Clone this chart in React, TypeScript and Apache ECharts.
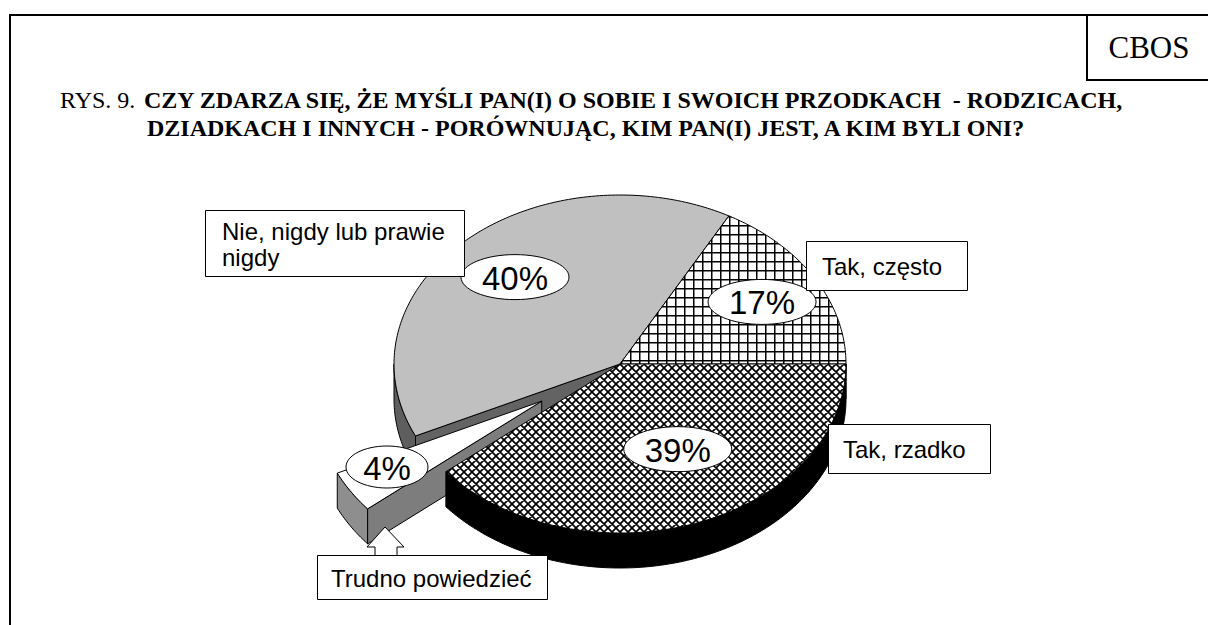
import React, { useEffect, useRef } from "react";
import * as echarts from "echarts";

// ---------- data ----------
const categories = ["Tak, często", "Nie, nigdy lub prawie nigdy", "Trudno powiedzieć", "Tak, rzadko"];
const calloutTexts = ["Tak, często", "Nie, nigdy lub prawie\nnigdy", "Trudno powiedzieć", "Tak, rzadko"];
const values = [17, 40, 4, 39];
const titlePrefix = "RYS. 9.";
const titleLine1 = "CZY ZDARZA SIĘ, ŻE MYŚLI PAN(I) O SOBIE I SWOICH PRZODKACH  - RODZICACH,";
const titleLine2 = "DZIADKACH I INNYCH - PORÓWNUJĄC, KIM PAN(I) JEST, A KIM BYLI ONI?";
const sourceLabel = "CBOS";

// ---------- layout / style ----------
const W = 1208;
const H = 625;
const PIE = { cx: 620, cy: 364, rx: 226, ry: 169, depth: 35 };
const explode = [0, 0, 0.41, 0];
const labelLayout = [
  { r: 0.728, da: -0.3 },
  { r: 0.693, da: -1.1 },
  { r: 0.788, da: -2.75 },
  { r: 0.565, da: 7.1 },
];
const SANS = 'Arial, "Liberation Sans", sans-serif';
const SERIF = '"Times New Roman", "Liberation Serif", serif';

const svgUrl = (s: string) => "data:image/svg+xml;charset=utf-8," + encodeURIComponent(s);
const gridPattern = {
  image: svgUrl(
    '<svg xmlns="http://www.w3.org/2000/svg" width="9" height="9"><rect width="9" height="9" fill="#fff"/><path d="M0 0.75H9M0.75 0V9" stroke="#000" stroke-width="1.5" fill="none"/></svg>'
  ),
  repeat: "repeat",
  imageWidth: 9,
  imageHeight: 9,
};
const diamondPattern = {
  image: svgUrl(
    '<svg xmlns="http://www.w3.org/2000/svg" width="8" height="8"><rect width="8" height="8" fill="#fff"/><path d="M-2 -2L10 10M10 -2L-2 10M6 -2L10 2M-2 6L2 10M-2 2L2 -2M6 10L10 6" stroke="#000" stroke-width="1.7" fill="none"/></svg>'
  ),
  repeat: "repeat",
  imageWidth: 8,
  imageHeight: 8,
};
const topFills: any[] = [gridPattern, "#c0c0c0", "#ffffff", diamondPattern];
const wallFills = ["#808080", "#5e5e5e", "#8e8e8e", "#000000"];
const cutFills = ["#808080", "#636363", "#7d7d7d", "#000000"];

// callout boxes (annotation layout)
const callouts = [
  { x: 806, y: 241, w: 161, h: 49, tx: 822 },
  { x: 205, y: 210, w: 259, h: 66, tx: 222 },
  { x: 317, y: 555, w: 230, h: 44, tx: 331 },
  { x: 828, y: 424, w: 162, h: 49, tx: 843 },
];

const rad = (d: number) => (d * Math.PI) / 180;

function renderItem(params: any, api: any) {
  const i = params.dataIndex;
  const total = values.reduce((a, b) => a + b, 0);
  let start = 0;
  for (let j = 0; j < i; j++) start += (values[j] / total) * 360;
  const v = api.value(0);
  const a0 = start;
  const a1 = start + (v / total) * 360;
  const mid = (a0 + a1) / 2;
  const { rx, ry, depth: D } = PIE;
  const ex = explode[i];
  const cx = PIE.cx + ex * rx * Math.cos(rad(mid));
  const cy = PIE.cy - ex * ry * Math.sin(rad(mid));
  const pt = (t: number, dz = 0) => [cx + rx * Math.cos(rad(t)), cy - ry * Math.sin(rad(t)) + dz];
  const arc = (t0: number, t1: number, dz: number) => {
    const n = Math.max(2, Math.ceil(Math.abs(t1 - t0)));
    const pts: number[][] = [];
    for (let k = 0; k <= n; k++) pts.push(pt(t0 + ((t1 - t0) * k) / n, dz));
    return pts;
  };
  const base = 1000 + Math.round(-Math.sin(rad(mid)) * 100) * 10;
  const children: any[] = [];
  const edge = { stroke: "#000", lineWidth: 1, lineJoin: "round" };

  // outer (front-facing) wall
  const f0 = Math.max(a0, 180);
  const f1 = Math.min(a1, 360);
  if (f1 > f0) {
    const top = arc(f0, f1, 0);
    const bot = arc(f0, f1, D).reverse();
    children.push({
      type: "polygon",
      z2: base,
      shape: { points: top.concat(bot) },
      style: { fill: wallFills[i], ...edge },
    });
  }
  // radial cut faces
  if (Math.cos(rad(a0)) > 1e-6) {
    children.push({
      type: "polygon",
      z2: base,
      shape: { points: [[cx, cy], pt(a0), pt(a0, D), [cx, cy + D]] },
      style: { fill: cutFills[i], ...edge },
    });
  }
  if (Math.cos(rad(a1)) < -1e-6) {
    children.push({
      type: "polygon",
      z2: base,
      shape: { points: [[cx, cy], pt(a1), pt(a1, D), [cx, cy + D]] },
      style: { fill: cutFills[i], ...edge },
    });
  }
  // top face
  children.push({
    type: "polygon",
    z2: base + 2,
    shape: { points: [[cx, cy]].concat(arc(a0, a1, 0)) },
    style: { fill: topFills[i], ...edge },
  });
  // percentage label
  const L = labelLayout[i];
  const la = mid + L.da;
  const lx = cx + L.r * rx * Math.cos(rad(la));
  const ly = cy - L.r * ry * Math.sin(rad(la));
  const txt = `${v}%`;
  const erx = txt.length > 2 ? 54 : 41;
  const ery = txt.length > 2 ? 22.5 : 21;
  children.push({
    type: "ellipse",
    z2: 5000,
    shape: { cx: lx, cy: ly, rx: erx, ry: ery },
    style: { fill: "#fff", stroke: "#000", lineWidth: 1 },
  });
  children.push({
    type: "text",
    z2: 5001,
    style: {
      text: txt,
      x: lx,
      y: ly + 1,
      align: "center",
      verticalAlign: "middle",
      fontSize: 33,
      fontFamily: SANS,
      fill: "#000",
    },
  });
  return { type: "group", children };
}

export default function App() {
  const ref = useRef<HTMLDivElement>(null);
  useEffect(() => {
    if (!ref.current) return;
    const chart = echarts.init(ref.current, null, { renderer: "svg", width: W, height: H });

    const graphic: any[] = [
      // frame
      {
        type: "rect",
        shape: { x: 10, y: 15, width: 1300, height: 800 },
        style: { fill: "none", stroke: "#000", lineWidth: 2 },
        silent: true,
      },
      {
        type: "rect",
        shape: { x: 1087, y: 15, width: 200, height: 65 },
        style: { fill: "none", stroke: "#000", lineWidth: 2 },
        silent: true,
      },
      {
        type: "text",
        style: {
          text: sourceLabel,
          x: 1149,
          y: 47,
          align: "center",
          verticalAlign: "middle",
          fontSize: 31,
          fontFamily: SERIF,
          fill: "#000",
        },
      },
      {
        type: "text",
        style: {
          text: titlePrefix,
          x: 60,
          y: 100,
          verticalAlign: "middle",
          fontSize: 24,
          fontFamily: SERIF,
          fill: "#000",
        },
      },
      {
        type: "text",
        style: {
          text: titleLine1,
          x: 144,
          y: 100,
          verticalAlign: "middle",
          fontSize: 24,
          fontWeight: "bold",
          fontFamily: SERIF,
          fill: "#000",
        },
      },
      {
        type: "text",
        style: {
          text: titleLine2,
          x: 147,
          y: 128,
          verticalAlign: "middle",
          fontSize: 24,
          fontWeight: "bold",
          fontFamily: SERIF,
          fill: "#000",
        },
      },
      // arrow pointing to the exploded slice
      {
        type: "polygon",
        z: 10,
        shape: {
          points: [
            [385, 527],
            [404, 547],
            [397, 547],
            [397, 556],
            [375, 556],
            [375, 547],
            [367, 547],
          ],
        },
        style: { fill: "#fff", stroke: "#000", lineWidth: 1 },
      },
    ];
    callouts.forEach((c, i) => {
      graphic.push({
        type: "rect",
        z: 10,
        shape: { x: c.x + 0.5, y: c.y + 0.5, width: c.w, height: c.h },
        style: { fill: "#fff", stroke: "#000", lineWidth: 1 },
      });
      graphic.push({
        type: "text",
        z: 11,
        style: {
          text: calloutTexts[i],
          x: c.tx,
          y: c.y + c.h / 2 + 1,
          verticalAlign: "middle",
          fontSize: 24,
          lineHeight: 26,
          fontFamily: SANS,
          fill: "#000",
        },
      });
    });

    chart.setOption({
      animation: false,
      backgroundColor: "#ffffff",
      graphic,
      series: [
        {
          type: "custom",
          coordinateSystem: "none",
          silent: true,
          renderItem,
          data: values.map((v, i) => ({ name: categories[i], value: v })),
        },
      ],
    });
    return () => chart.dispose();
  }, []);
  return (
    <div
      ref={ref}
      style={{ position: "fixed", left: 0, top: 0, width: W, height: H, background: "#fff" }}
    />
  );
}
